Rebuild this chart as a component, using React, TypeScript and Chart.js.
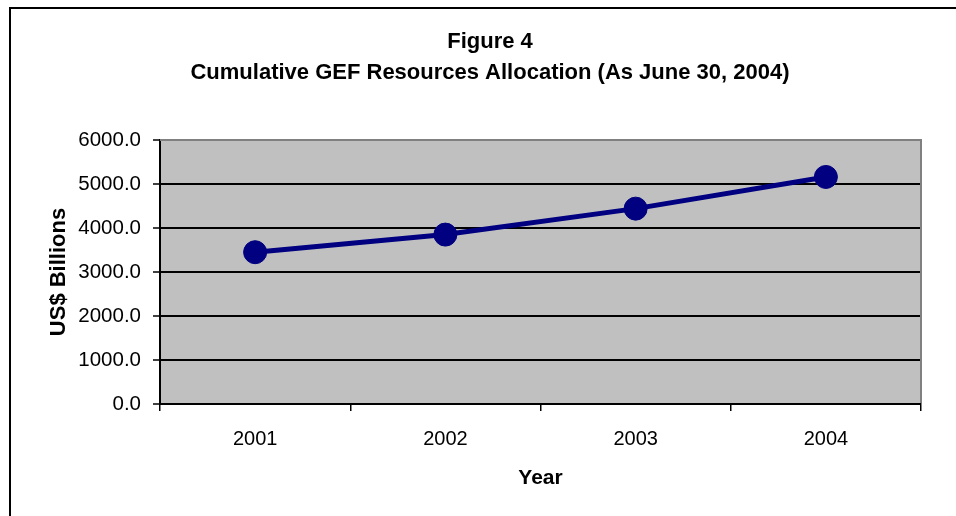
import React, { useEffect, useRef } from 'react';
import { Chart, registerables } from 'chart.js';

Chart.register(...registerables);

const titleLines = ['Figure 4', 'Cumulative GEF Resources Allocation (As June 30, 2004)'];
const years = ['2001', '2002', '2003', '2004'];
const allocation = [3450, 3850, 4440, 5160];
const yMin = 0;
const yMax = 6000;
const yStep = 1000;
const xTitle = 'Year';
const yTitle = 'US$ Billions';

const FONT = '"Liberation Sans", Arial, sans-serif';
const W = 956;
const H = 516;

export default function App() {
  const ref = useRef<HTMLCanvasElement>(null);

  useEffect(() => {
    const canvas = ref.current;
    if (!canvas) return;

    const decor = {
      id: 'decor',
      beforeDraw(chart: any) {
        const { ctx, chartArea: a } = chart;
        ctx.save();
        ctx.fillStyle = '#ffffff';
        ctx.fillRect(0, 0, chart.width, chart.height);
        ctx.fillStyle = '#C0C0C0';
        ctx.fillRect(a.left, a.top, a.right - a.left, a.bottom - a.top);
        // outer frame (left and top visible)
        ctx.fillStyle = '#000000';
        ctx.fillRect(9, 7, 2, chart.height - 7);
        ctx.fillRect(9, 7, chart.width - 9, 2);
        // title
        ctx.font = `bold 22px ${FONT}`;
        ctx.textAlign = 'center';
        ctx.textBaseline = 'alphabetic';
        const baselines = [48, 79];
        titleLines.forEach((t, i) => {
          ctx.fillText(t, 490, baselines[i]);
        });
        ctx.restore();
      },
      beforeDatasetsDraw(chart: any) {
        const { ctx, chartArea: a } = chart;
        ctx.save();
        ctx.fillStyle = '#808080';
        ctx.fillRect(a.left, a.top - 1, a.right - a.left + 1, 2);
        ctx.fillRect(a.right - 1, a.top - 1, 2, a.bottom - a.top);
        ctx.restore();
      },
    };

    const chart = new Chart(canvas, {
      type: 'line',
      data: {
        labels: years,
        datasets: [
          {
            data: allocation,
            borderColor: '#000080',
            backgroundColor: '#000080',
            borderWidth: 5,
            pointRadius: 11.5,
            pointHoverRadius: 11.5,
            pointBorderWidth: 1,
            pointBackgroundColor: '#000080',
            pointBorderColor: '#000080',
            tension: 0,
            fill: false,
          },
        ],
      },
      options: {
        responsive: false,
        animation: false,
        devicePixelRatio: 1,
        layout: { padding: { left: 0, right: 35, top: 140, bottom: 0 } },
        plugins: {
          legend: { display: false },
          title: { display: false },
          tooltip: { enabled: false },
        },
        scales: {
          x: {
            type: 'category',
            offset: true,
            afterFit(scale: any) {
              scale.height = H - 404;
            },
            grid: {
              display: true,
              offset: true,
              drawOnChartArea: false,
              drawTicks: true,
              tickLength: 7,
              color: '#000000',
              tickColor: '#000000',
              lineWidth: 1.5,
              tickWidth: 1.5,
            },
            border: { display: true, color: '#000000', width: 2 },
            ticks: {
              color: '#000000',
              font: { family: FONT, size: 20 },
              padding: 16,
              maxRotation: 0,
            },
            title: {
              display: true,
              text: xTitle,
              color: '#000000',
              font: { family: FONT, size: 21, weight: 'bold' },
              padding: { top: 0, bottom: 25 },
            },
          },
          y: {
            type: 'linear',
            min: yMin,
            max: yMax,
            afterFit(scale: any) {
              scale.width = 160;
            },
            grid: {
              display: true,
              drawTicks: true,
              tickLength: 7,
              color: (c: any) => (c.tick && c.tick.value === yMax ? 'rgba(0,0,0,0)' : '#000000'),
              tickColor: '#000000',
              lineWidth: 2,
              tickWidth: 1.5,
            },
            border: { display: true, color: '#000000', width: 2 },
            ticks: {
              stepSize: yStep,
              color: '#000000',
              font: { family: FONT, size: 20.5 },
              padding: 12,
              callback: (v: any) => Number(v).toFixed(1),
            },
            title: {
              display: true,
              text: yTitle,
              color: '#000000',
              font: { family: FONT, size: 22, weight: 'bold' },
              padding: { top: 46, bottom: 0 },
            },
          },
        },
      },
      plugins: [decor],
    });

    return () => {
      chart.destroy();
    };
  }, []);

  return (
    <div style={{ position: 'fixed', left: 0, top: 0, width: W, height: H, background: '#fff' }}>
      <canvas ref={ref} width={W} height={H} style={{ width: W, height: H, display: 'block' }} />
    </div>
  );
}
